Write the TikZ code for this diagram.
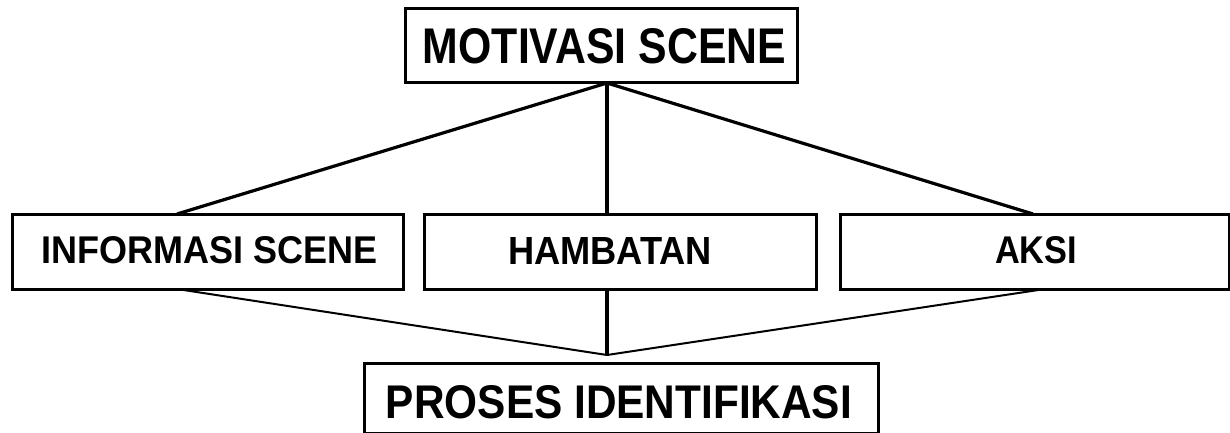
\documentclass[tikz,border=0pt]{standalone}
\usepackage{fontspec}
\setmainfont{Liberation Sans}
\usepackage{graphicx}
\newcommand{\fitbox}[3]{\resizebox{#1}{#2}{\bfseries #3}}
\tikzset{
  boxstyle/.style={draw=black, line width=3pt, rectangle, inner sep=0pt, fill=white},
  lbl/.style={inner sep=0pt, anchor=center},
  heavy/.style={line width=3.2pt},
  light/.style={line width=2pt},
}
\begin{document}
\begin{tikzpicture}[x=1pt, y=-1pt]
\useasboundingbox (0,0) rectangle (1230,433);
% boxes
\node[boxstyle, minimum width=392pt, minimum height=74pt] (top) at (601,46) {};
\node[boxstyle, minimum width=391pt, minimum height=75pt] (info) at (207.5,251.5) {};
\node[boxstyle, minimum width=392pt, minimum height=75pt] (ham) at (620,251.5) {};
\node[boxstyle, minimum width=389pt, minimum height=75pt] (aksi) at (1034.5,251.5) {};
\node[boxstyle, minimum width=514pt, minimum height=70pt] (bot) at (621,398) {};
% texts
\node[lbl] (topT) at (604.5,46.5) {\fitbox{363pt}{35pt}{MOTIVASI SCENE}};
\node[lbl] (infoT) at (210,250.5) {\fitbox{336pt}{27pt}{INFORMASI SCENE}};
\node[lbl] (hamT) at (610,250.5) {\fitbox{204pt}{27pt}{HAMBATAN}};
\node[lbl] (aksiT) at (1036,250.5) {\fitbox{82pt}{27pt}{AKSI}};
\node[lbl] (botT) at (619,402.5) {\fitbox{466pt}{33pt}{PROSES IDENTIFIKASI}};
% connector points
\coordinate (ta) at (607,83);
\coordinate (i1) at (177,214);
\coordinate (h1) at (607,214);
\coordinate (a1) at (1033,214);
\coordinate (i2) at (177,289);
\coordinate (h2) at (607,289);
\coordinate (a2) at (1045,289);
\coordinate (m) at (607,355);
% connectors
\draw[heavy] (ta) -- (i1);
\draw[heavy] (ta) -- (h1);
\draw[heavy] (ta) -- (a1);
\draw[light] (i2) -- (m);
\draw[heavy] (h2) -- (m);
\draw[light] (a2) -- (m);
\end{tikzpicture}
\end{document}
